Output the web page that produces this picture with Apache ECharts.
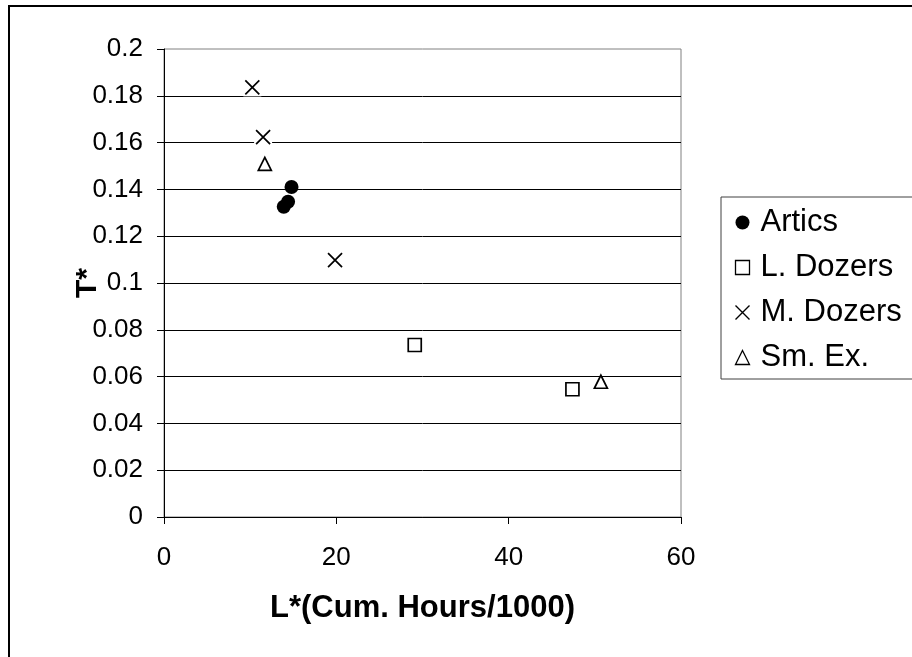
<!DOCTYPE html>
<html>
<head>
<meta charset="utf-8">
<script src="https://cdn.jsdelivr.net/npm/echarts@6/dist/echarts.min.js"></script>
<style>
html,body{margin:0;padding:0;background:#fff;}
#chart{width:912px;height:657px;}
</style>
</head>
<body>
<div id="chart"></div>
<script>
// Data
const articsX = [14.8, 14.4, 13.9];
const articsY = [0.141, 0.1347, 0.1326];
const lDozersX = [29.1, 47.4];
const lDozersY = [0.0735, 0.0546];
const mDozersX = [10.25, 11.5, 19.85];
const mDozersY = [0.1836, 0.1623, 0.1098];
const smExX = [11.7, 50.7];
const smExY = [0.1509, 0.0578];
const seriesNames = ['Artics', 'L. Dozers', 'M. Dozers', 'Sm. Ex.'];
const xName = 'L*(Cum. Hours/1000)';
const yName = 'T*';

function pairs(xs, ys) { return xs.map((x, i) => [x, ys[i]]); }

const FONT = '"Liberation Sans", Arial, sans-serif';
const crossPath = 'path://M0,0L10,10M10,0L0,10';

const chart = echarts.init(document.getElementById('chart'), null, {renderer: 'canvas'});
chart.setOption({
  animation: false,
  backgroundColor: '#ffffff',
  textStyle: {fontFamily: FONT, color: '#000'},
  graphic: [{
    type: 'rect', silent: true, z: -10,
    shape: {x: 9, y: 6, width: 960, height: 700},
    style: {fill: 'none', stroke: '#000', lineWidth: 2}
  }],
  grid: {
    left: 164, right: 231, top: 49, bottom: 140,
    show: true, borderColor: '#808080', borderWidth: 1, backgroundColor: 'transparent'
  },
  xAxis: {
    type: 'value', min: 0, max: 60, interval: 20,
    name: xName, nameLocation: 'middle', nameGap: 76, nameMoveOverlap: false,
    nameTextStyle: {fontFamily: FONT, fontSize: 31, fontWeight: 'bold', color: '#000'},
    axisLine: {show: true, onZero: false, lineStyle: {color: '#000', width: 1}},
    axisTick: {show: true, inside: false, length: 7, lineStyle: {color: '#000'}},
    axisLabel: {fontFamily: FONT, fontSize: 26, color: '#000', margin: 28},
    splitLine: {show: false}
  },
  yAxis: {
    type: 'value', min: 0, max: 0.2, interval: 0.02,
    name: yName, nameLocation: 'middle', nameGap: 61, nameRotate: 90, nameMoveOverlap: false,
    nameTextStyle: {fontFamily: FONT, fontSize: 30, fontWeight: 'bold', color: '#000'},
    axisLine: {show: true, onZero: false, lineStyle: {color: '#000', width: 1}},
    axisTick: {show: true, inside: false, length: 7, lineStyle: {color: '#000'}},
    axisLabel: {fontFamily: FONT, fontSize: 26, color: '#000', margin: 21},
    splitLine: {show: true, showMaxLine: false, lineStyle: {color: '#000', width: 1}}
  },
  legend: {
    orient: 'vertical', left: 721, top: 197,
    padding: [10, 40, 6, 12],
    itemGap: 14, itemWidth: 14, itemHeight: 14,
    backgroundColor: '#fff', borderColor: '#404040', borderWidth: 1,
    textStyle: {fontFamily: FONT, fontSize: 31, color: '#000', padding: [0, 0, 0, 6]},
    data: [
      {name: seriesNames[0], icon: 'circle', itemStyle: {color: '#000'}},
      {name: seriesNames[1], icon: 'rect', itemStyle: {color: '#fff', borderColor: '#000', borderWidth: 1.3}},
      {name: seriesNames[2], icon: crossPath, itemStyle: {color: 'none', borderColor: '#000', borderWidth: 1.4}},
      {name: seriesNames[3], icon: 'triangle', itemStyle: {color: '#fff', borderColor: '#000', borderWidth: 1.3}}
    ]
  },
  series: [
    {
      name: seriesNames[0], type: 'scatter', symbol: 'circle', symbolSize: 14,
      itemStyle: {color: '#000', opacity: 1},
      data: pairs(articsX, articsY)
    },
    {
      name: seriesNames[1], type: 'scatter', symbol: 'rect', symbolSize: 13,
      itemStyle: {color: '#fff', borderColor: '#000', borderWidth: 1.7, opacity: 1},
      data: pairs(lDozersX, lDozersY)
    },
    {
      name: 'mdz-bg', type: 'scatter', symbol: 'rect', symbolSize: 18,
      itemStyle: {color: '#fff', opacity: 1}, z: 2,
      data: pairs(mDozersX, mDozersY)
    },
    {
      name: seriesNames[2], type: 'scatter', symbol: crossPath, symbolSize: 14, z: 3,
      itemStyle: {color: 'none', borderColor: '#000', borderWidth: 1.7, opacity: 1},
      data: pairs(mDozersX, mDozersY)
    },
    {
      name: seriesNames[3], type: 'scatter', symbol: 'triangle', symbolSize: 13,
      itemStyle: {color: '#fff', borderColor: '#000', borderWidth: 1.7, opacity: 1},
      data: pairs(smExX, smExY)
    }
  ]
});
</script>
</body>
</html>
